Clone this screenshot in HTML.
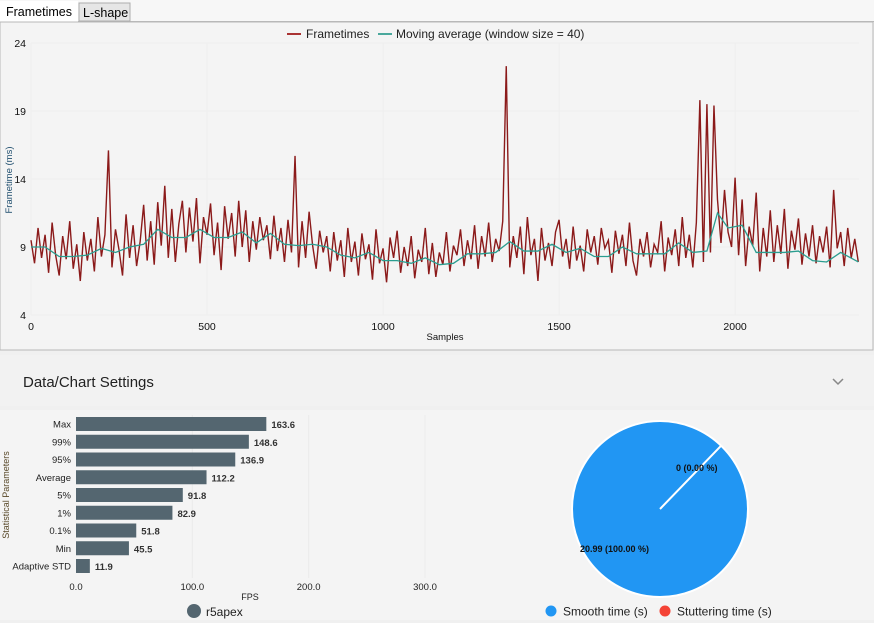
<!DOCTYPE html>
<html><head><meta charset="utf-8">
<style>
body{margin:0;width:874px;height:623px;overflow:hidden;background:#f0f0f0;font-family:"Liberation Sans",sans-serif;position:relative}
svg{position:absolute;left:0;top:0}
</style></head><body>
<svg id="s" width="874" height="623">
<rect x="0" y="0" width="874" height="623" fill="#f0f0f0"/>
<rect x="0" y="0" width="874" height="21" fill="#f7f7f7"/>
<line x1="0" y1="21.5" x2="874" y2="21.5" stroke="#b8b8b8"/>
<g><rect x="0" y="1" width="78" height="21" fill="#fff"/><text x="6" y="16" font-size="12.5" fill="#000">Frametimes</text></g>
<g><rect x="79" y="3" width="51" height="18" fill="#e6e6e6" stroke="#adadad"/><text x="83" y="17" font-size="12.5" fill="#000">L-shape</text></g>
<rect x="0" y="22" width="873" height="328" fill="#f4f4f4" stroke="#b8b8b8"/>
<g id="fc"></g>
<rect x="0" y="355" width="874" height="51" fill="#f2f2f2"/>
<text x="23" y="387" font-size="15" fill="#222">Data/Chart Settings</text>
<path d="M833 379 L838 384 L843 379" fill="none" stroke="#888" stroke-width="1.5"/>
<rect x="0" y="410" width="874" height="210" fill="#f4f4f4"/>
<g id="bc"></g>
<g id="pc"></g>
</svg>
<script>
const NS="http://www.w3.org/2000/svg";
function mk(p,t,a){const e=document.createElementNS(NS,t);for(const k in a)e.setAttribute(k,a[k]);p.appendChild(e);return e;}
// ---- Frametime data ----
const sampleStep=10;
const frametimes=[9.5,7.8,10.4,8.2,9.9,7.1,10.8,8.4,6.9,9.8,8.1,10.9,7.4,9.2,6.5,10.1,
8.0,9.6,7.2,11.2,8.3,9.9,16.1,7.5,10.3,8.8,6.9,11.4,8.2,10.6,7.6,9.4,12.1,8.0,10.9,7.7,
12.3,9.1,13.5,8.2,11.8,7.9,10.7,12.4,8.6,11.9,9.4,12.6,7.8,11.2,9.9,12.2,8.4,10.8,7.3,12.0,9.6,11.5,8.3,12.4,9.0,11.7,7.9,10.9,8.8,11.2,9.5,10.6,8.1,11.3,8.7,
10.4,7.9,11.0,8.6,15.7,7.5,10.9,8.2,11.6,9.1,7.4,10.2,8.6,9.8,7.2,10.1,8.0,9.5,6.8,10.4,
7.9,9.4,6.9,10.0,8.1,9.2,6.6,10.3,7.8,8.9,6.4,9.7,8.2,10.2,7.1,9.0,7.6,9.8,6.7,8.8,7.9,10.4,7.0,9.3,6.8,8.6,7.7,10.1,7.2,9.1,
8.4,10.3,7.6,9.5,8.1,10.6,7.4,9.8,8.3,10.8,7.9,9.6,8.7,10.9,22.3,
7.5,9.8,8.2,10.5,7.0,11.2,8.4,9.6,6.5,10.4,8.0,9.3,7.6,10.1,11.0,8.3,9.6,7.4,10.5,8.0,9.1,7.2,10.3,8.6,9.8,7.7,10.4,8.9,9.5,7.1,10.2,8.5,9.9,7.6,10.8,8.0,6.9,9.6,8.3,10.1,7.5,9.2,8.6,10.9,7.2,9.7,8.4,10.3,7.6,11.2,
8.2,9.9,7.5,10.8,19.8,7.9,19.5,8.6,19.4,12.5,9.3,13.2,10.1,9.0,14.1,
8.4,12.5,7.6,10.5,9.1,13.0,7.2,10.4,8.3,11.7,7.9,10.6,8.5,11.8,7.4,10.2,8.8,11.1,7.7,10.0,8.3,10.6,7.8,9.8,8.6,10.5,7.5,13.2,8.9,10.1,7.6,10.4,8.2,9.6,7.9];
const maSamples=[0,40,80,120,160,200,240,280,320,360,400,440,480,520,560,600,640,680,720,760,800,840,880,920,960,1000,1040,1080,1120,1160,1200,1240,1280,1320,1360,1400,1440,1480,1520,1560,1600,1640,1680,1720,1760,1800,1840,1880,1920,1950,1980,2020,2060,2100,2140,2180,2220,2260,2300,2350];
const maValues=[9.0,9.0,8.3,8.3,8.4,8.9,8.6,9.0,9.2,10.3,9.7,9.7,10.3,9.7,9.7,10.1,9.3,10.0,9.2,9.1,9.2,9.0,8.4,8.2,8.6,8.0,8.0,7.8,8.2,7.7,7.8,8.5,8.5,8.6,9.4,8.7,8.7,9.2,8.6,8.9,8.3,8.3,9.0,8.5,8.5,8.5,9.3,8.6,8.7,11.5,10.4,10.6,8.6,8.6,8.6,8.7,8.0,7.9,8.6,7.9];
const xTicks=[0,500,1000,1500,2000];
const yTicks=[4,9,14,19,24];
// ---- Bar data ----
const barCats=["Max","99%","95%","Average","5%","1%","0.1%","Min","Adaptive STD"];
const barVals=[163.6,148.6,136.9,112.2,91.8,82.9,51.8,45.5,11.9];
const barTicks=[0,100,200,300];
// ---- Pie data ----
const pieLabels=["Smooth time (s)","Stuttering time (s)"];
const pieVals=[20.99,0];

const fc=document.getElementById('fc');
const X=v=>31+v*(828/2352), Y=v=>315-(v-4)*(272/20);
xTicks.forEach(t=>{const l=mk(fc,'line',{x1:X(t),x2:X(t),y1:43,y2:315,stroke:'#eeeeee'});

const tx=mk(fc,'text',{x:X(t),y:330,'font-size':10.5,'text-anchor':'middle',fill:'#111'});tx.textContent=t;
});
yTicks.forEach(t=>{const l=mk(fc,'line',{x1:31,x2:859,y1:Y(t),y2:Y(t),stroke:'#eeeeee'});

const tx=mk(fc,'text',{x:26,y:Y(t)+4,'font-size':10.5,'text-anchor':'end',fill:'#111'});tx.textContent=t;
});
let yt=mk(fc,'text',{x:0,y:0,'font-size':9.5,'text-anchor':'middle',fill:'#1f4e6e',transform:'translate(12,180) rotate(-90)'});yt.textContent='Frametime (ms)';

let xt=mk(fc,'text',{x:445,y:340,'font-size':9.5,'text-anchor':'middle',fill:'#111'});xt.textContent='Samples';

let fl=mk(fc,'polyline',{points:frametimes.map((v,i)=>X(i*sampleStep)+','+Y(v)).join(' '),fill:'none',stroke:'#8b1a1a','stroke-width':1.4,'stroke-linejoin':'miter'});

let ml=mk(fc,'polyline',{points:maValues.map((v,i)=>X(maSamples[i])+','+Y(v)).join(' '),fill:'none',stroke:'#2a9d8f','stroke-width':1.3});

let lg=mk(fc,'g',{});
mk(lg,'line',{x1:287,x2:301,y1:34,y2:34,stroke:'#a33','stroke-width':2});
let t1=mk(lg,'text',{x:306,y:38,'font-size':12,fill:'#222'});t1.textContent='Frametimes';
mk(lg,'line',{x1:378,x2:392,y1:34,y2:34,stroke:'#4aa89c','stroke-width':2});
let t2=mk(lg,'text',{x:396,y:38,'font-size':12,fill:'#222'});t2.textContent='Moving average (window size = 40)';

// bar chart
const bc=document.getElementById('bc');
const BX=v=>76+v*(349/300), BY=i=>424+i*17.75;
barTicks.forEach(t=>{if(t>0){const l=mk(bc,'line',{x1:BX(t),x2:BX(t),y1:415,y2:578,stroke:'#ebebeb'});}
const tx=mk(bc,'text',{x:BX(t),y:590,'font-size':9.5,'text-anchor':'middle',fill:'#222'});tx.textContent=t.toFixed(1);
});
barCats.forEach((c,i)=>{const r=mk(bc,'rect',{x:76,y:BY(i)-7,width:BX(barVals[i])-76,height:14,fill:'#546670'});

const l=mk(bc,'text',{x:71,y:BY(i)+3.5,'font-size':9.5,'text-anchor':'end',fill:'#222'});l.textContent=c;

const v=mk(bc,'text',{x:BX(barVals[i])+5,y:BY(i)+4,'font-size':9.5,'font-weight':'bold',fill:'#333'});v.textContent=barVals[i].toFixed(1);
});
let st=mk(bc,'text',{x:0,y:0,'font-size':9,'text-anchor':'middle',fill:'#5a4a2a',transform:'translate(9,495) rotate(-90)'});st.textContent='Statistical Parameters';

let fp=mk(bc,'text',{x:250,y:600,'font-size':9,'text-anchor':'middle',fill:'#222'});fp.textContent='FPS';

let bl=mk(bc,'circle',{cx:194,cy:611,r:7,fill:'#546670'});
let blt=mk(bc,'text',{x:206,y:616,'font-size':12,fill:'#222'});blt.textContent='r5apex';


// pie
const pc=document.getElementById('pc');
const cx=660,cy=509,R=88,total=pieVals.reduce((a,b)=>a+b,0);
const colors=['#2196f3','#f44336'];
const start=-46*Math.PI/180;
let a0=start;
pieVals.forEach((v,i)=>{const frac=v/total;
if(frac>=0.9999){const c=mk(pc,'circle',{cx,cy,r:R,fill:colors[i],stroke:'#fff','stroke-width':2});}
else if(frac>0){const a1=a0+frac*2*Math.PI;const p=mk(pc,'path',{d:`M${cx},${cy}L${cx+R*Math.cos(a0)},${cy+R*Math.sin(a0)}A${R},${R} 0 ${frac>0.5?1:0} 1 ${cx+R*Math.cos(a1)},${cy+R*Math.sin(a1)}Z`,fill:colors[i],stroke:'#fff','stroke-width':2});}
a0+=frac*2*Math.PI;});
let sl=mk(pc,'line',{x1:cx,y1:cy,x2:cx+R*Math.cos(start),y2:cy+R*Math.sin(start),stroke:'#fff','stroke-width':2});

let p1=mk(pc,'text',{x:676,y:471,'font-size':9,'font-weight':'bold',fill:'#111'});p1.textContent=pieVals[1].toFixed(0)+' ('+(pieVals[1]/total*100).toFixed(2)+' %)';

let p2=mk(pc,'text',{x:580,y:552,'font-size':9,'font-weight':'bold',fill:'#111'});p2.textContent=pieVals[0].toFixed(2)+' ('+(pieVals[0]/total*100).toFixed(2)+' %)';

[[551,563],[665,677]].forEach((p,i)=>{const c=mk(pc,'circle',{cx:p[0],cy:611,r:5.5,fill:colors[i]});

const t=mk(pc,'text',{x:p[1],y:615.5,'font-size':12,fill:'#222'});t.textContent=pieLabels[i];
});
</script>
</body></html>
